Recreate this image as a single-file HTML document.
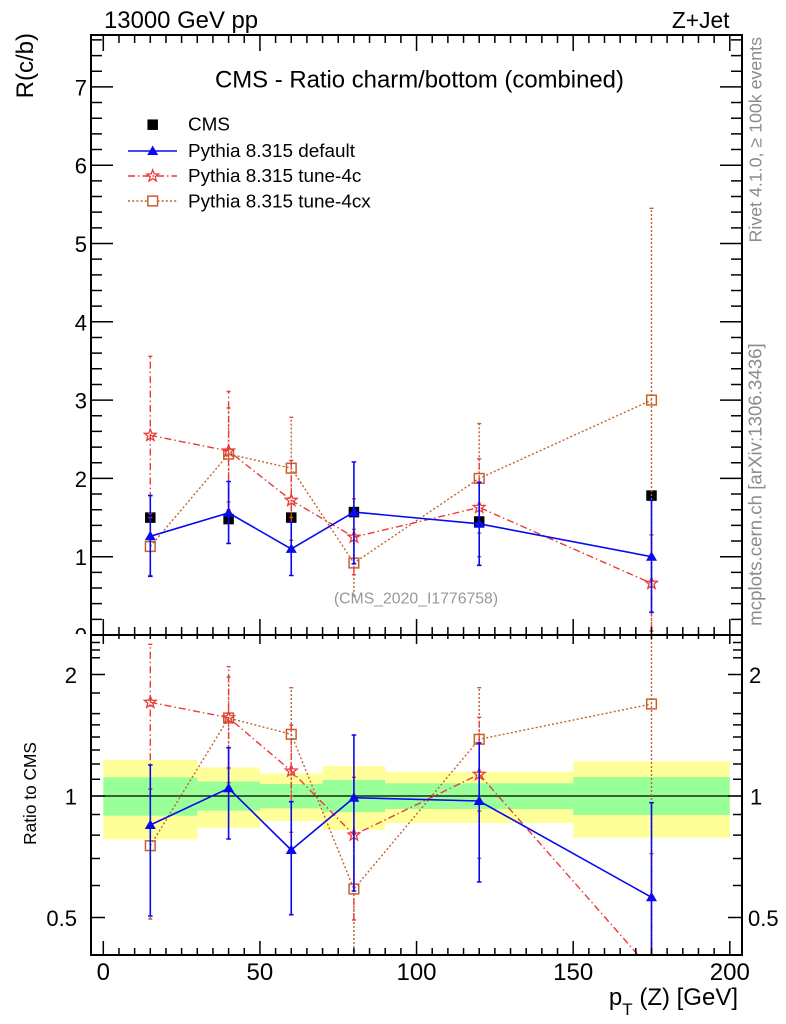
<!DOCTYPE html>
<html><head><meta charset="utf-8"><style>html,body{margin:0;padding:0;background:#fff}svg{display:block}</style></head>
<body>
<svg width="786" height="1024" viewBox="0 0 786 1024" xmlns="http://www.w3.org/2000/svg" font-family="'Liberation Sans', Arial, sans-serif">
<defs>
<clipPath id="cm"><rect x="91" y="35" width="651" height="600"/></clipPath>
<clipPath id="cr"><rect x="91" y="635" width="651" height="320"/></clipPath>
<clipPath id="c0"><rect x="0" y="0" width="786" height="634"/></clipPath>
<path id="st" d="M0,-6.2L1.53,-2.1L5.9,-1.92L2.47,0.8L3.64,5.02L0,2.6L-3.64,5.02L-2.47,0.8L-5.9,-1.92L-1.53,-2.1Z"/>
<path id="tri" d="M0,-5.5L5.5,4L-5.5,4Z"/>
<path id="xmin" d="M118.96 0v1M134.63 0v1M150.29 0v1M165.95 0v1M181.61 0v1M197.28 0v1M212.94 0v1M228.6 0v1M244.26 0v1M275.59 0v1M291.25 0v1M306.91 0v1M322.58 0v1M338.24 0v1M353.9 0v1M369.56 0v1M385.23 0v1M400.89 0v1M432.21 0v1M447.88 0v1M463.54 0v1M479.2 0v1M494.86 0v1M510.53 0v1M526.19 0v1M541.85 0v1M557.51 0v1M588.84 0v1M604.5 0v1M620.16 0v1M635.83 0v1M651.49 0v1M667.15 0v1M682.81 0v1M698.48 0v1M714.14 0v1"/>
<path id="xmaj" d="M103.3 0v1M259.93 0v1M416.55 0v1M573.18 0v1M729.8 0v1"/>
<path id="ymin" d="M0 619.34h1M0 603.68h1M0 588.02h1M0 572.36h1M0 541.04h1M0 525.38h1M0 509.72h1M0 494.06h1M0 462.74h1M0 447.08h1M0 431.42h1M0 415.76h1M0 384.44h1M0 368.78h1M0 353.12h1M0 337.46h1M0 306.14h1M0 290.48h1M0 274.82h1M0 259.16h1M0 227.84h1M0 212.18h1M0 196.52h1M0 180.86h1M0 149.54h1M0 133.88h1M0 118.22h1M0 102.56h1M0 71.24h1M0 55.58h1M0 39.92h1"/>
<path id="ymaj" d="M0 556.7h1M0 478.4h1M0 400.1h1M0 321.8h1M0 243.5h1M0 165.2h1M0 86.9h1"/>
<path id="rmin" d="M0 885.5h1M0 858.5h1M0 835.1h1M0 814.5h1M0 779.3h1M0 764h1M0 750h1M0 737h1M0 724.9h1M0 713.6h1M0 693h1M0 657.8h1M0 650h1M0 642.5h1"/>
<path id="rmaj" d="M0 917.5h1M0 796h1M0 674.5h1"/>
</defs>

<!-- Ratio bands -->
<g fill="#ffff99">
<rect x="103.3" y="760" width="94" height="79.3"/>
<rect x="197.3" y="767.3" width="62.6" height="60.4"/>
<rect x="259.9" y="773.5" width="62.7" height="47.5"/>
<rect x="322.6" y="766" width="62.6" height="64"/>
<rect x="385.2" y="772" width="188" height="51"/>
<rect x="573.2" y="761.3" width="156.6" height="76.4"/>
</g>
<g fill="#99ff99">
<rect x="103.3" y="777.3" width="94" height="38.4"/>
<rect x="197.3" y="781.5" width="62.6" height="29.2"/>
<rect x="259.9" y="784" width="62.7" height="24.3"/>
<rect x="322.6" y="780" width="62.6" height="32"/>
<rect x="385.2" y="783.3" width="188" height="25.7"/>
<rect x="573.2" y="777" width="156.6" height="38"/>
</g>
<line x1="91" y1="796" x2="742" y2="796" stroke="#000" stroke-width="1.3"/>

<!-- Main panel series -->
<g clip-path="url(#cm)">
  <g fill="#000">
    <rect x="145.05" y="512.35" width="10.5" height="10.5"/>
    <rect x="223.35" y="513.85" width="10.5" height="10.5"/>
    <rect x="286" y="512.35" width="10.5" height="10.5"/>
    <rect x="348.65" y="506.85" width="10.5" height="10.5"/>
    <rect x="473.95" y="516.25" width="10.5" height="10.5"/>
    <rect x="646.25" y="490.35" width="10.5" height="10.5"/>
  </g>
  <!-- brown tune-4cx -->
  <g stroke="#c4622d" fill="none" stroke-width="1.4">
    <polyline points="150.3,546.5 228.6,454.1 291.25,468.2 353.9,563 479.2,478.4 651.5,400.1" stroke-dasharray="2 2.2"/>
    <path d="M150.3 575.5V517.6M228.6 501.9V407.9M291.25 517.6V417.3M353.9 595.9V529.3M479.2 533.2V423.6M651.5 640V208.3" stroke-dasharray="2 2"/>
    <path d="M148.3 575.5h4M148.3 517.6h4M226.6 501.9h4M226.6 407.9h4M289.25 517.6h4M289.25 417.3h4M351.9 595.9h4M351.9 529.3h4M477.2 533.2h4M477.2 423.6h4M649.5 208.3h4"/>
    <g stroke-width="1.5">
      <rect x="145.45" y="541.65" width="9.7" height="9.7"/>
      <rect x="223.75" y="449.25" width="9.7" height="9.7"/>
      <rect x="286.4" y="463.35" width="9.7" height="9.7"/>
      <rect x="349.05" y="558.15" width="9.7" height="9.7"/>
      <rect x="474.35" y="473.55" width="9.7" height="9.7"/>
      <rect x="646.65" y="395.25" width="9.7" height="9.7"/>
    </g>
  </g>
  <!-- red tune-4c -->
  <g stroke="#ea3b3b" fill="none" stroke-width="1.4">
    <polyline points="150.3,435.3 228.6,451 291.25,500.3 353.9,537.1 479.2,507.4 651.5,583.3" stroke-dasharray="7 3 1.5 3"/>
    <path d="M150.3 513.6V356.3M228.6 509.7V391.5M291.25 540.3V460.4M353.9 574.7V498.8M479.2 556.7V458.8M651.5 631.1V534.8" stroke-dasharray="7 3 1.5 3"/>
    <path d="M148.3 513.6h4M148.3 356.3h4M226.6 509.7h4M226.6 391.5h4M289.25 540.3h4M289.25 460.4h4M351.9 574.7h4M351.9 498.8h4M477.2 556.7h4M477.2 458.8h4M649.5 631.1h4M649.5 534.8h4"/>
    <g stroke-width="1.3">
      <use href="#st" transform="translate(150.3,435.3)"/>
      <use href="#st" transform="translate(228.6,451)"/>
      <use href="#st" transform="translate(291.25,500.3)"/>
      <use href="#st" transform="translate(353.9,537.1)"/>
      <use href="#st" transform="translate(479.2,507.4)"/>
      <use href="#st" transform="translate(651.5,583.3)"/>
    </g>
  </g>
  <!-- blue default -->
  <g stroke="#0a0aee" fill="none" stroke-width="1.6">
    <polyline points="150.3,536.3 228.6,512.9 291.25,548.9 353.9,512.1 479.2,523.8 651.5,556.7"/>
    <path d="M150.3 576.3V495.6M228.6 543.4V481.5M291.25 575.5V522.2M353.9 563.7V462M479.2 565.3V482.3M651.5 612.3V500.3"/>
    <path d="M148 576.3h4.6M148 495.6h4.6M226.3 543.4h4.6M226.3 481.5h4.6M288.95 575.5h4.6M288.95 522.2h4.6M351.6 563.7h4.6M351.6 462h4.6M476.9 565.3h4.6M476.9 482.3h4.6M649.2 612.3h4.6M649.2 500.3h4.6"/>
    <g fill="#0a0aee" stroke="none">
      <use href="#tri" transform="translate(150.3,536.3)"/>
      <use href="#tri" transform="translate(228.6,512.9)"/>
      <use href="#tri" transform="translate(291.25,548.9)"/>
      <use href="#tri" transform="translate(353.9,512.1)"/>
      <use href="#tri" transform="translate(479.2,523.8)"/>
      <use href="#tri" transform="translate(651.5,556.7)"/>
    </g>
  </g>
</g>

<!-- Ratio panel series -->
<g clip-path="url(#cr)">
  <g stroke="#c4622d" fill="none" stroke-width="1.4">
    <polyline points="150.3,845.7 228.6,718 291.25,734.3 353.9,889 479.2,739.3 651.5,704" stroke-dasharray="2 2.2"/>
    <path d="M150.3 919V789M228.6 782.7V677M291.25 796V687.7M353.9 960V834M479.2 811V687.7M651.5 960V630" stroke-dasharray="2 2"/>
    <path d="M148.3 919h4M148.3 789h4M226.6 782.7h4M226.6 677h4M289.25 796h4M289.25 687.7h4M351.9 834h4M477.2 811h4M477.2 687.7h4"/>
    <g stroke-width="1.5">
      <rect x="145.45" y="840.85" width="9.7" height="9.7"/>
      <rect x="223.75" y="713.15" width="9.7" height="9.7"/>
      <rect x="286.4" y="729.45" width="9.7" height="9.7"/>
      <rect x="349.05" y="884.15" width="9.7" height="9.7"/>
      <rect x="474.35" y="734.45" width="9.7" height="9.7"/>
      <rect x="646.65" y="699.15" width="9.7" height="9.7"/>
    </g>
  </g>
  <g stroke="#ea3b3b" fill="none" stroke-width="1.4">
    <polyline points="150.3,702.3 228.6,717.7 291.25,771 353.9,835 479.2,774.3 651.5,970.3" stroke-dasharray="7 3 1.5 3"/>
    <path d="M150.3 789.3V644.3M228.6 768V666.7M291.25 832.3V725M353.9 920V777.3M479.2 858.3V717.3M651.5 960V853.6" stroke-dasharray="7 3 1.5 3"/>
    <path d="M148.3 789.3h4M148.3 644.3h4M226.6 768h4M226.6 666.7h4M289.25 832.3h4M289.25 725h4M351.9 920h4M351.9 777.3h4M477.2 858.3h4M477.2 717.3h4M649.5 853.6h4"/>
    <g stroke-width="1.3">
      <use href="#st" transform="translate(150.3,702.3)"/>
      <use href="#st" transform="translate(228.6,717.7)"/>
      <use href="#st" transform="translate(291.25,771)"/>
      <use href="#st" transform="translate(353.9,835)"/>
      <use href="#st" transform="translate(479.2,774.3)"/>
    </g>
  </g>
  <g stroke="#0a0aee" fill="none" stroke-width="1.6">
    <polyline points="150.3,825 228.6,788.3 291.25,850 353.9,797.7 479.2,801 651.5,897.3"/>
    <path d="M150.3 916V765M228.6 839V747.7M291.25 914.7V801.7M353.9 891V735M479.2 882V743M651.5 960V802.7"/>
    <path d="M148 916h4.6M148 765h4.6M226.3 839h4.6M226.3 747.7h4.6M288.95 914.7h4.6M288.95 801.7h4.6M351.6 891h4.6M351.6 735h4.6M476.9 882h4.6M476.9 743h4.6M649.2 802.7h4.6"/>
    <g fill="#0a0aee" stroke="none">
      <use href="#tri" transform="translate(150.3,825)"/>
      <use href="#tri" transform="translate(228.6,788.3)"/>
      <use href="#tri" transform="translate(291.25,850)"/>
      <use href="#tri" transform="translate(353.9,797.7)"/>
      <use href="#tri" transform="translate(479.2,801)"/>
      <use href="#tri" transform="translate(651.5,897.3)"/>
    </g>
  </g>
</g>

<!-- Frame and ticks -->
<rect x="91" y="35" width="651" height="920" fill="none" stroke="#000" stroke-width="2"/>
<line x1="91" y1="635" x2="742" y2="635" stroke="#000" stroke-width="2"/>
<g stroke="#000" stroke-width="1.5">
<use href="#xmin" transform="translate(0,35) scale(1,8)"/>
<use href="#xmaj" transform="translate(0,35) scale(1,16)"/>
<use href="#xmin" transform="translate(0,635) scale(1,-8)"/>
<use href="#xmaj" transform="translate(0,635) scale(1,-16)"/>
<use href="#xmin" transform="translate(0,635) scale(1,4)"/>
<use href="#xmaj" transform="translate(0,635) scale(1,9)"/>
<use href="#xmin" transform="translate(0,955) scale(1,-7)"/>
<use href="#xmaj" transform="translate(0,955) scale(1,-14)"/>
<use href="#ymin" transform="translate(91,0) scale(11,1)"/>
<use href="#ymaj" transform="translate(91,0) scale(22,1)"/>
<use href="#ymin" transform="translate(742,0) scale(-11,1)"/>
<use href="#ymaj" transform="translate(742,0) scale(-22,1)"/>
<use href="#rmin" transform="translate(91,0) scale(9,1)"/>
<use href="#rmaj" transform="translate(91,0) scale(14,1)"/>
<use href="#rmin" transform="translate(742,0) scale(-9,1)"/>
<use href="#rmaj" transform="translate(742,0) scale(-14,1)"/>
</g>

<!-- Tick labels -->
<g font-size="22" fill="#000" text-anchor="end">
<text x="87" y="643.5" clip-path="url(#c0)">0</text>
<text x="87" y="565.2">1</text>
<text x="87" y="486.9">2</text>
<text x="87" y="408.6">3</text>
<text x="87" y="330.3">4</text>
<text x="87" y="252">5</text>
<text x="87" y="173.7">6</text>
<text x="87" y="95.4">7</text>
<text x="77" y="683">2</text>
<text x="77" y="804.5">1</text>
<text x="77" y="926">0.5</text>
</g>
<g font-size="22" fill="#000">
<text x="749" y="683">2</text>
<text x="750" y="804.5">1</text>
<text x="748" y="926">0.5</text>
</g>
<g font-size="24" fill="#000" text-anchor="middle">
<text x="103.3" y="980">0</text>
<text x="259.9" y="980">50</text>
<text x="416.5" y="980">100</text>
<text x="573.2" y="980">150</text>
<text x="729.8" y="980">200</text>
</g>

<!-- Axis labels -->
<text x="738" y="1005" font-size="24" text-anchor="end">p<tspan font-size="17" dy="10">T</tspan><tspan dy="-10"> (Z) [GeV]</tspan></text>
<text transform="translate(33,33) rotate(-90)" font-size="24" text-anchor="end">R(c/b)</text>
<text transform="translate(36,793.5) rotate(-90)" font-size="17.3" text-anchor="middle">Ratio to CMS</text>

<!-- Top labels -->
<text x="104" y="28" font-size="23.9">13000 GeV pp</text>
<text x="729.5" y="28" font-size="22.8" text-anchor="end">Z+Jet</text>
<text x="215" y="87.5" font-size="23.9">CMS - Ratio charm/bottom (combined)</text>

<!-- Side gray labels -->
<text transform="translate(761.5,37) rotate(-90)" font-size="17.8" fill="#8c8c8c" text-anchor="end">Rivet 4.1.0, ≥ 100k events</text>
<text transform="translate(761.5,343.3) rotate(-90)" font-size="18.7" fill="#8c8c8c" text-anchor="end">mcplots.cern.ch [arXiv:1306.3436]</text>
<text x="416" y="603.5" font-size="15.8" fill="#999" text-anchor="middle">(CMS_2020_I1776758)</text>

<!-- Legend -->
<rect x="147.45" y="119.45" width="10.5" height="10.5" fill="#000"/>
<line x1="128" y1="151" x2="177" y2="151" stroke="#0a0aee" stroke-width="1.6"/>
<use href="#tri" transform="translate(152.7,151)" fill="#0a0aee"/>
<line x1="128" y1="176" x2="177" y2="176" stroke="#ea3b3b" stroke-width="1.4" stroke-dasharray="7 3 1.5 3"/>
<use href="#st" transform="translate(152.7,176)" fill="none" stroke="#ea3b3b" stroke-width="1.3"/>
<line x1="128" y1="201" x2="177" y2="201" stroke="#c4622d" stroke-width="1.4" stroke-dasharray="2 2.2"/>
<rect x="147.85" y="196.15" width="9.7" height="9.7" fill="#fff" stroke="#c4622d" stroke-width="1.5"/>
<g font-size="18.9" fill="#000">
<text x="188" y="130.5">CMS</text>
<text x="188" y="157">Pythia 8.315 default</text>
<text x="188" y="182">Pythia 8.315 tune-4c</text>
<text x="188" y="207.5">Pythia 8.315 tune-4cx</text>
</g>
</svg>
</body></html>
